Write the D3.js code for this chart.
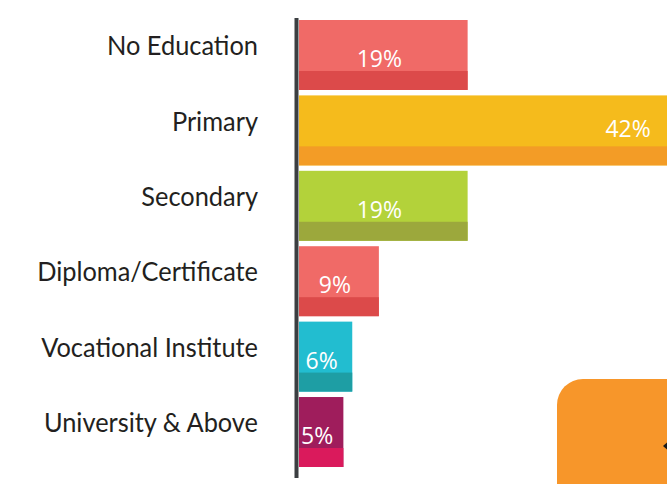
<!DOCTYPE html>
<html lang="en">
<head>
<meta charset="utf-8">
<title>Education</title>
<script src="https://d3js.org/d3.v7.min.js"></script>
<style>
  body { margin: 0; background: #fff; overflow: hidden; }
  .cat { font-family: Lato, "DejaVu Sans Condensed", sans-serif; font-size: 27px; fill: #231f20; }
  .val { font-family: "Open Sans", sans-serif; font-size: 23px; fill: #fff; }
</style>
</head>
<body>
<div id="chart"></div>
<script>
// data
var categories = ["No Education", "Primary", "Secondary", "Diploma/Certificate", "Vocational Institute", "University & Above"];
var values = [19, 42, 19, 9, 6, 5];
var topColors = ["#f06a67", "#f5bb1c", "#b3d23a", "#f06a67", "#22bdd0", "#9f1d5c"];
var baseColors = ["#dc4a4a", "#f39c26", "#9ca83c", "#dc4a4a", "#1e9ea4", "#da1a5c"];

var w = 667, h = 484;
var x0 = 299;

var svg = d3.select("#chart").append("svg")
    .attr("width", w)
    .attr("height", h);

var xScale = d3.scaleLinear()
    .domain([0, 40])
    .range([0, 355]);

var yScale = d3.scaleBand()
    .domain(categories)
    .range([20, 467])
    .paddingInner(0.072)
    .paddingOuter(0);

var bw = yScale.bandwidth();
var stripe = 19;

// decorative orange box bottom right
svg.append("rect")
    .attr("x", 557)
    .attr("y", 379)
    .attr("width", 160)
    .attr("height", 160)
    .attr("rx", 26)
    .attr("fill", "#f7962a");
svg.append("path")
    .attr("d", "M663,446 L670,440 L670,452 Z")
    .attr("fill", "#1a1a1a");

var rows = svg.selectAll("g.row")
    .data(categories)
    .enter().append("g")
    .attr("class", "row")
    .attr("transform", function(d) { return "translate(" + x0 + "," + yScale(d) + ")"; });

rows.append("rect")
    .attr("width", function(d, i) { return xScale(values[i]); })
    .attr("height", bw)
    .attr("fill", function(d, i) { return topColors[i]; });

rows.append("rect")
    .attr("y", bw - stripe)
    .attr("width", function(d, i) { return xScale(values[i]); })
    .attr("height", stripe)
    .attr("fill", function(d, i) { return baseColors[i]; });

rows.append("text")
    .attr("class", "val")
    .attr("x", function(d, i) {
        var len = xScale(values[i]);
        return len > 300 ? len - 21 : len / 2 - 4;
    })
    .attr("y", function(d, i) { return bw - stripe - (xScale(values[i]) > 300 ? 9 : 4); })
    .attr("text-anchor", function(d, i) { return xScale(values[i]) > 300 ? "end" : "middle"; })
    .text(function(d, i) { return values[i] + "%"; });

rows.append("text")
    .attr("class", "cat")
    .attr("transform", "translate(-41," + ((bw - stripe) / 2) + ") scale(0.94,1)")
    .attr("dy", "0.36em")
    .attr("text-anchor", "end")
    .text(function(d) { return d; });

// vertical axis line
svg.append("line")
    .attr("x1", 296.5).attr("x2", 296.5)
    .attr("y1", 18).attr("y2", 478)
    .attr("stroke", "#3b3e41")
    .attr("stroke-width", 4);
</script>
</body>
</html>
